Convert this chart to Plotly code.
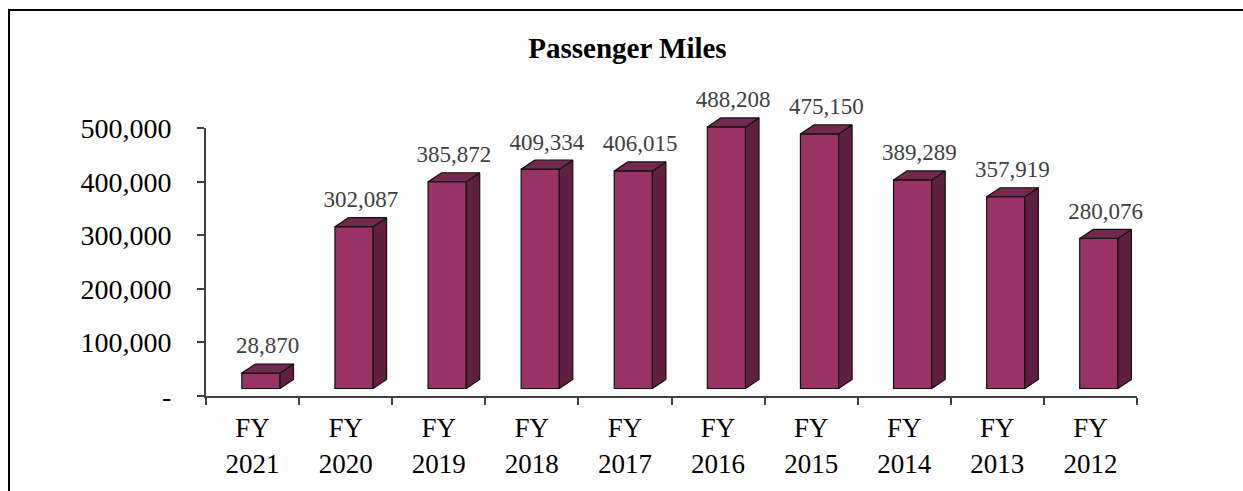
import plotly.graph_objects as go

# ---- data ----
categories = ["FY<br>2021", "FY<br>2020", "FY<br>2019", "FY<br>2018", "FY<br>2017",
              "FY<br>2016", "FY<br>2015", "FY<br>2014", "FY<br>2013", "FY<br>2012"]
values = [28870, 302087, 385872, 409334, 406015, 488208, 475150, 389289, 357919, 280076]
value_labels = [f"{v:,}" for v in values]
y_tickvals = [0, 100000, 200000, 300000, 400000, 500000]
y_ticktext = ["-", "100,000", "200,000", "300,000", "400,000", "500,000"]
title = "Passenger Miles"

# ---- 3D bar geometry (in axis units) ----
FONT = "Liberation Serif, Times New Roman, serif"
off = 0.09        # front face shift from category centre
w = 0.41          # front face width
dx = 0.145        # depth shift in x
dy = 16800        # depth shift in y
base = 14000      # floor lift
label_gap = 9000  # extra lift of value labels
y_top_range = 545000
front_col = "#993366"
side_col = "#5f1f40"
top_col = "#73284f"

xs = list(range(len(values)))

fig = go.Figure()

# front faces
fig.add_trace(go.Bar(
    x=[i + off for i in xs], y=values, base=[base] * len(values), width=w,
    marker=dict(color=front_col, line=dict(color="#111111", width=1.2)),
    xaxis="x", yaxis="y2", hoverinfo="skip", showlegend=False))

# side faces and top faces
side_x, side_y, top_x, top_y = [], [], [], []
for i, v in zip(xs, values):
    xl = i + off - w / 2
    xr = i + off + w / 2
    t = v + base
    side_x += [xr, xr + dx, xr + dx, xr, xr, None]
    side_y += [base, base + dy, t + dy, t, base, None]
    top_x += [xl, xl + dx, xr + dx, xr, xl, None]
    top_y += [t, t + dy, t + dy, t, t, None]

fig.add_trace(go.Scatter(x=side_x, y=side_y, mode="lines", fill="toself",
                         fillcolor=side_col, line=dict(color="#111111", width=1.2),
                         xaxis="x", yaxis="y2", hoverinfo="skip", showlegend=False))
fig.add_trace(go.Scatter(x=top_x, y=top_y, mode="lines", fill="toself",
                         fillcolor=top_col, line=dict(color="#111111", width=1.2),
                         xaxis="x", yaxis="y2", hoverinfo="skip", showlegend=False))

# value labels
fig.add_trace(go.Scatter(
    x=[i + off + dx / 2 for i in xs], y=[v + base + dy + label_gap for v in values],
    mode="text", text=value_labels, textposition="top center",
    textfont=dict(family=FONT, size=23, color="#404040"),
    cliponaxis=False, xaxis="x", yaxis="y2", hoverinfo="skip", showlegend=False))

# dummy trace to activate primary y axis
fig.add_trace(go.Scatter(x=[None], y=[None], xaxis="x", yaxis="y",
                         showlegend=False, hoverinfo="skip"))

ydom = 500000 / y_top_range
fig.update_layout(
    width=1243, height=491,
    margin=dict(l=206, r=106, t=104, b=95),
    paper_bgcolor="white", plot_bgcolor="rgba(0,0,0,0)",
    showlegend=False,
    title=dict(text=f"<b>{title}</b>", x=0.5048, xref="container", xanchor="center",
               y=1 - 47.5 / 491, yref="container", yanchor="middle",
               font=dict(family=FONT, size=29, color="black")),
    xaxis=dict(range=[-0.5, len(values) - 0.5], anchor="y",
               tickmode="array", tickvals=xs, ticktext=categories, ticks="",
               showline=True, linecolor="#404040", linewidth=2,
               showgrid=False, zeroline=False, ticklabelstandoff=7,
               tickfont=dict(family=FONT, size=27, color="black"),
               minor=dict(tickmode="array", tickvals=[i - 0.5 for i in range(len(values) + 1)],
                          ticks="outside", ticklen=7, tickwidth=2, tickcolor="#404040",
                          showgrid=False)),
    yaxis=dict(domain=[0, ydom], range=[0, 500000], anchor="x",
               tickmode="array", tickvals=y_tickvals, ticktext=y_ticktext,
               ticks="outside", ticklen=7, tickwidth=2, tickcolor="#404040",
               showline=True, linecolor="#404040", linewidth=2,
               showgrid=False, zeroline=False, ticklabelstandoff=20,
               tickfont=dict(family=FONT, size=28, color="black")),
    yaxis2=dict(domain=[0, 1], range=[0, y_top_range], anchor="x",
                visible=False, showgrid=False, zeroline=False),
    shapes=[dict(type="rect", xref="paper", yref="paper",
                 x0=(9 - 206) / 931, x1=1.5, y0=-1.0, y1=(396 - 10) / 292,
                 line=dict(color="black", width=2), fillcolor="rgba(0,0,0,0)",
                 layer="below")],
)

fig.write_html("out.html")
